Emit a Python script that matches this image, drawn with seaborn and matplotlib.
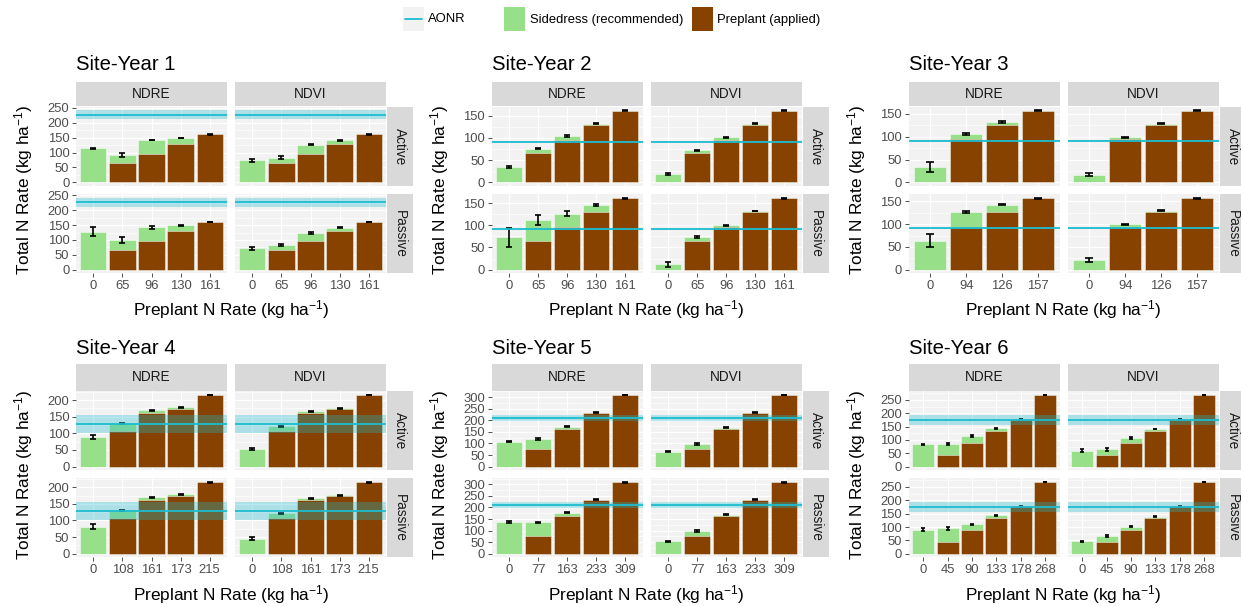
import matplotlib
matplotlib.use("Agg")
import matplotlib.pyplot as plt
import numpy as np
import pandas as pd
import seaborn as sns
from matplotlib.patches import Rectangle
from matplotlib.lines import Line2D

# ---------------------------------------------------------------- data
# Preplant N rates (kg/ha) are the x categories; totals = preplant + sidedress.
SY1_RATES = [0, 65, 96, 130, 161]
SY1_NDRE_ACTIVE = [114, 92, 142, 149, 161]
SY1_NDRE_ACTIVE_SE = [2, 8, 1.5, 1.5, 1]
SY1_NDVI_ACTIVE = [74, 83, 126, 141, 161]
SY1_NDVI_ACTIVE_SE = [5, 5, 2, 1.5, 1]
SY1_NDRE_PASSIVE = [127, 101, 142, 150, 161]
SY1_NDRE_PASSIVE_SE = [15, 10, 4, 1.5, 1]
SY1_NDVI_PASSIVE = [72, 83, 123, 141, 161]
SY1_NDVI_PASSIVE_SE = [5, 5, 3, 1.5, 1]
SY1_AONR = 227
SY1_AONR_BAND = (212, 242)

SY2_RATES = [0, 65, 96, 130, 161]
SY2_NDRE_ACTIVE = [34, 76, 104, 132, 161]
SY2_NDRE_ACTIVE_SE = [2, 2, 1.5, 1, 1]
SY2_NDVI_ACTIVE = [18, 72, 101, 132, 161]
SY2_NDVI_ACTIVE_SE = [2, 1.5, 1, 1, 1]
SY2_NDRE_PASSIVE = [73, 112, 126, 145, 161]
SY2_NDRE_PASSIVE_SE = [21, 11, 6, 2, 1]
SY2_NDVI_PASSIVE = [12, 74, 100, 132, 161]
SY2_NDVI_PASSIVE_SE = [5, 2, 1, 1, 1]
SY2_AONR = 91
SY2_AONR_BAND = (90, 92)

SY3_RATES = [0, 94, 126, 157]
SY3_NDRE_ACTIVE = [33, 106, 132, 157]
SY3_NDRE_ACTIVE_SE = [11, 1.5, 1.5, 1]
SY3_NDVI_ACTIVE = [17, 99, 129, 157]
SY3_NDVI_ACTIVE_SE = [4, 1, 1, 1]
SY3_NDRE_PASSIVE = [64, 126, 143, 157]
SY3_NDRE_PASSIVE_SE = [14, 2, 2, 1]
SY3_NDVI_PASSIVE = [21, 100, 129, 157]
SY3_NDVI_PASSIVE_SE = [4, 1, 1, 1]
SY3_AONR = 91
SY3_AONR_BAND = (90, 92)

SY4_RATES = [0, 108, 161, 173, 215]
SY4_NDRE_ACTIVE = [89, 130, 169, 179, 215]
SY4_NDRE_ACTIVE_SE = [6, 2, 2, 1.5, 1]
SY4_NDVI_ACTIVE = [53, 121, 166, 176, 215]
SY4_NDVI_ACTIVE_SE = [2, 1.5, 1.5, 1.5, 1]
SY4_NDRE_PASSIVE = [81, 131, 170, 179, 215]
SY4_NDRE_PASSIVE_SE = [8, 1.5, 2, 1.5, 1]
SY4_NDVI_PASSIVE = [45, 121, 167, 176, 215]
SY4_NDVI_PASSIVE_SE = [5, 1.5, 1.5, 1.5, 1]
SY4_AONR = 129
SY4_AONR_BAND = (102, 156)

SY5_RATES = [0, 77, 163, 233, 309]
SY5_NDRE_ACTIVE = [108, 120, 173, 233, 309]
SY5_NDRE_ACTIVE_SE = [3, 3, 2, 2, 1.5]
SY5_NDVI_ACTIVE = [64, 99, 169, 233, 309]
SY5_NDVI_ACTIVE_SE = [3, 5, 2, 2, 1.5]
SY5_NDRE_PASSIVE = [138, 135, 177, 233, 309]
SY5_NDRE_PASSIVE_SE = [4, 3, 3, 2, 1.5]
SY5_NDVI_PASSIVE = [53, 98, 169, 233, 309]
SY5_NDVI_PASSIVE_SE = [3, 4, 2, 2, 1.5]
SY5_AONR = 211
SY5_AONR_BAND = (198, 225)

SY6_RATES = [0, 45, 90, 133, 178, 268]
SY6_NDRE_ACTIVE = [83, 85, 115, 143, 178, 268]
SY6_NDRE_ACTIVE_SE = [3, 4, 3, 1.5, 1.5, 1]
SY6_NDVI_ACTIVE = [60, 65, 108, 141, 178, 268]
SY6_NDVI_ACTIVE_SE = [6, 6, 3, 1.5, 1.5, 1]
SY6_NDRE_PASSIVE = [90, 95, 111, 144, 178, 268]
SY6_NDRE_PASSIVE_SE = [6, 5, 2, 1.5, 1.5, 1]
SY6_NDVI_PASSIVE = [46, 66, 101, 139, 178, 268]
SY6_NDVI_PASSIVE_SE = [2, 3, 2, 1.5, 1.5, 1]
SY6_AONR = 176
SY6_AONR_BAND = (157, 194)

SENSORS = ["NDRE", "NDVI"]
MODES = ["Active", "Passive"]
TITLES = ["Site-Year 1", "Site-Year 2", "Site-Year 3",
          "Site-Year 4", "Site-Year 5", "Site-Year 6"]
LEGEND_LABELS = ["AONR", "Sidedress (recommended)", "Preplant (applied)"]
X_TITLE = "Preplant N Rate (kg ha$^{-1}$)"
Y_TITLE = "Total N Rate (kg ha$^{-1}$)"

SITE_YEARS = [
    (SY1_RATES, [SY1_NDRE_ACTIVE, SY1_NDVI_ACTIVE, SY1_NDRE_PASSIVE, SY1_NDVI_PASSIVE],
     [SY1_NDRE_ACTIVE_SE, SY1_NDVI_ACTIVE_SE, SY1_NDRE_PASSIVE_SE, SY1_NDVI_PASSIVE_SE],
     SY1_AONR, SY1_AONR_BAND),
    (SY2_RATES, [SY2_NDRE_ACTIVE, SY2_NDVI_ACTIVE, SY2_NDRE_PASSIVE, SY2_NDVI_PASSIVE],
     [SY2_NDRE_ACTIVE_SE, SY2_NDVI_ACTIVE_SE, SY2_NDRE_PASSIVE_SE, SY2_NDVI_PASSIVE_SE],
     SY2_AONR, SY2_AONR_BAND),
    (SY3_RATES, [SY3_NDRE_ACTIVE, SY3_NDVI_ACTIVE, SY3_NDRE_PASSIVE, SY3_NDVI_PASSIVE],
     [SY3_NDRE_ACTIVE_SE, SY3_NDVI_ACTIVE_SE, SY3_NDRE_PASSIVE_SE, SY3_NDVI_PASSIVE_SE],
     SY3_AONR, SY3_AONR_BAND),
    (SY4_RATES, [SY4_NDRE_ACTIVE, SY4_NDVI_ACTIVE, SY4_NDRE_PASSIVE, SY4_NDVI_PASSIVE],
     [SY4_NDRE_ACTIVE_SE, SY4_NDVI_ACTIVE_SE, SY4_NDRE_PASSIVE_SE, SY4_NDVI_PASSIVE_SE],
     SY4_AONR, SY4_AONR_BAND),
    (SY5_RATES, [SY5_NDRE_ACTIVE, SY5_NDVI_ACTIVE, SY5_NDRE_PASSIVE, SY5_NDVI_PASSIVE],
     [SY5_NDRE_ACTIVE_SE, SY5_NDVI_ACTIVE_SE, SY5_NDRE_PASSIVE_SE, SY5_NDVI_PASSIVE_SE],
     SY5_AONR, SY5_AONR_BAND),
    (SY6_RATES, [SY6_NDRE_ACTIVE, SY6_NDVI_ACTIVE, SY6_NDRE_PASSIVE, SY6_NDVI_PASSIVE],
     [SY6_NDRE_ACTIVE_SE, SY6_NDVI_ACTIVE_SE, SY6_NDRE_PASSIVE_SE, SY6_NDVI_PASSIVE_SE],
     SY6_AONR, SY6_AONR_BAND),
]

# ---------------------------------------------------------------- style
GREEN = "#98DF8A"
BROWN = "#884200"
CYAN = "#1CBCCF"
PANEL_BG = "#F2F2F2"
STRIP_BG = "#D9D9D9"
BAR_EDGE = (1, 1, 1, 0.55)
TICK_TXT = "#4D4D4D"

sns.set_theme(style="white")
plt.rcParams["font.family"] = ["Liberation Sans", "DejaVu Sans"]
plt.rcParams["mathtext.fontset"] = "custom"
plt.rcParams["mathtext.rm"] = "Liberation Sans"
plt.rcParams["mathtext.it"] = "Liberation Sans:italic"
plt.rcParams["mathtext.bf"] = "Liberation Sans:bold"

TICK_SIZE = 9.4
STRIP_SIZE = 9.8
AXIS_TITLE_SIZE = 12.4
TITLE_SIZE = 14.6
LEGEND_SIZE = 9.4

W, H = 1241, 606
fig = plt.figure(figsize=(W / 100, H / 100), dpi=100)
fig.patch.set_facecolor("white")


def axes_px(left, top, width, height):
    return fig.add_axes([left / W, 1 - (top + height) / H, width / W, height / H])


def site_frame(rates, totals, errs):
    rows = []
    keys = [(s, m) for m in MODES for s in SENSORS]
    for (sensor, mode), tot, se in zip(keys, totals, errs):
        for r, t, e in zip(rates, tot, se):
            rows.append(dict(sensor=sensor, mode=mode, rate=str(r),
                             preplant=r, total=t, se=e))
    return pd.DataFrame(rows)


# layout (pixels)
BLOCK_LEFT = [76, 491.7, 908.7]
PANEL_W = 151
PANEL_GAP = 8
SIDE_STRIP_W = 26
ROWS = [
    dict(strip_top=81.7, strip_h=24.3, act_top=106.7, pas_top=194.1, pan_h=79.2,
         title_y=65, xlab_y=310),
    dict(strip_top=364.0, strip_h=26.7, act_top=391.2, pas_top=478.3, pan_h=79.0,
         title_y=348.3, xlab_y=595),
]


def draw_panel(ax, d, order, ylim, yticks, aonr, band, show_x, show_y, capsize):
    ax.set_facecolor(PANEL_BG)
    ax.set_axisbelow(True)
    sns.barplot(data=d, x="rate", y="total", order=order, color=GREEN,
                saturation=1, width=0.9, errorbar=None, edgecolor=BAR_EDGE,
                linewidth=0.6, ax=ax, zorder=2)
    sns.barplot(data=d, x="rate", y="preplant", order=order, color=BROWN,
                saturation=1, width=0.9, errorbar=None, edgecolor=BAR_EDGE,
                linewidth=0.6, ax=ax, zorder=3)
    ax.errorbar(np.arange(len(order)), d["total"].to_numpy(), yerr=d["se"].to_numpy(),
                fmt="none", ecolor="black", elinewidth=1.2, capsize=capsize,
                capthick=1.2, zorder=4)
    ax.axhspan(band[0], band[1], color=CYAN, alpha=0.32, lw=0, zorder=5)
    ax.axhline(aonr, color=CYAN, lw=1.3, zorder=6)

    n = len(order)
    ax.set_xlim(-0.6, n - 0.4)
    ax.set_ylim(*ylim)
    ax.set_yticks(yticks)
    minor = [t + (yticks[1] - yticks[0]) / 2 for t in yticks]
    minor = [m for m in minor if m < ylim[1]]
    ax.set_yticks(minor, minor=True)
    ax.grid(which="major", axis="both", color="white", lw=0.9)
    ax.grid(which="minor", axis="y", color="white", lw=0.45)
    ax.tick_params(axis="y", which="minor", length=0)
    ax.set_xlabel("")
    ax.set_ylabel("")
    for sp in ax.spines.values():
        sp.set_visible(False)
    ax.tick_params(axis="x", which="major", bottom=show_x, labelbottom=show_x,
                   length=2.8, width=0.6, color="#333333", pad=2,
                   labelsize=TICK_SIZE, labelcolor=TICK_TXT)
    ax.tick_params(axis="y", which="major", left=show_y, labelleft=show_y,
                   length=2.8, width=0.6, color="#333333", pad=2,
                   labelsize=TICK_SIZE, labelcolor=TICK_TXT)


for idx, (rates, totals, errs, aonr, band) in enumerate(SITE_YEARS):
    df = site_frame(rates, totals, errs)
    order = [str(r) for r in rates]
    top_val = max((df["total"] + df["se"]).max(), band[1])
    ylim = (-0.05 * top_val, 1.05 * top_val)
    yticks = list(np.arange(0, ylim[1], 50))
    row = ROWS[idx // 3]
    left = BLOCK_LEFT[idx % 3]
    n = len(rates)
    unit_px = PANEL_W / (n + 0.2)
    capsize = 0.1 * unit_px * 0.72

    for mi, mode in enumerate(MODES):
        top = row["act_top"] if mi == 0 else row["pas_top"]
        for si, sensor in enumerate(SENSORS):
            ax = axes_px(left + si * (PANEL_W + PANEL_GAP), top, PANEL_W, row["pan_h"])
            d = df[(df["sensor"] == sensor) & (df["mode"] == mode)]
            draw_panel(ax, d, order, ylim, yticks, aonr, band,
                       show_x=(mi == 1), show_y=(si == 0), capsize=capsize)
        # row strip on the right
        sax = axes_px(left + 2 * PANEL_W + PANEL_GAP + 1, top, SIDE_STRIP_W, row["pan_h"])
        sax.set_facecolor(STRIP_BG)
        sax.set_xticks([]); sax.set_yticks([])
        for sp in sax.spines.values():
            sp.set_visible(False)
        sax.text(0.5, 0.5, mode, rotation=-90, ha="center", va="center",
                 fontsize=STRIP_SIZE, color="#1A1A1A", transform=sax.transAxes)

    # column strips
    for si, sensor in enumerate(SENSORS):
        sax = axes_px(left + si * (PANEL_W + PANEL_GAP), row["strip_top"], PANEL_W, row["strip_h"])
        sax.set_facecolor(STRIP_BG)
        sax.set_xticks([]); sax.set_yticks([])
        for sp in sax.spines.values():
            sp.set_visible(False)
        sax.text(0.5, 0.5, sensor, ha="center", va="center",
                 fontsize=STRIP_SIZE, color="#1A1A1A", transform=sax.transAxes)

    # titles
    fig.text(left / W, 1 - row["title_y"] / H, TITLES[idx], ha="left", va="center",
             fontsize=TITLE_SIZE, color="black")
    cx = left + PANEL_W + PANEL_GAP / 2
    fig.text(cx / W, 1 - row["xlab_y"] / H, X_TITLE, ha="center", va="center",
             fontsize=AXIS_TITLE_SIZE, color="black")
    cy = (row["act_top"] + row["pas_top"] + row["pan_h"]) / 2
    fig.text((left - 52) / W, 1 - cy / H, Y_TITLE, ha="center", va="center",
             rotation=90, fontsize=AXIS_TITLE_SIZE, color="black")

# ---------------------------------------------------------------- legend
def key_px(x, y, w, h, **kw):
    fig.add_artist(Rectangle((x / W, 1 - (y + h) / H), w / W, h / H,
                             transform=fig.transFigure, **kw))

KEY_Y, KEY_H, KEY_W = 7, 24, 21
key_px(403, KEY_Y, KEY_W, KEY_H, facecolor=PANEL_BG, edgecolor="none")
fig.add_artist(Line2D([405 / W, 422 / W], [1 - 19 / H, 1 - 19 / H],
                      transform=fig.transFigure, color=CYAN, lw=1.3))
key_px(504, KEY_Y, KEY_W, KEY_H, facecolor=GREEN, edgecolor="none")
key_px(692, KEY_Y, KEY_W, KEY_H, facecolor=BROWN, edgecolor="none")
for x, lab in zip([428, 530, 717], LEGEND_LABELS):
    fig.text(x / W, 1 - 19.5 / H, lab, ha="left", va="center",
             fontsize=LEGEND_SIZE, color="black")

fig.savefig("out.png", dpi=100)
